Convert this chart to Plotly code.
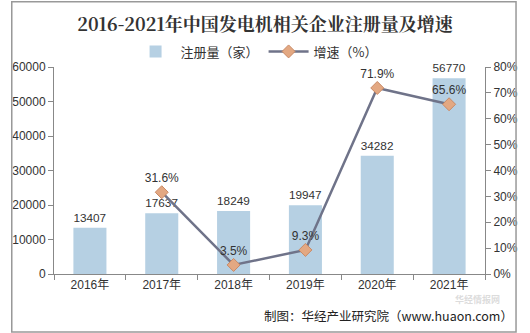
import plotly.graph_objects as go

years = ["2016年", "2017年", "2018年", "2019年", "2020年", "2021年"]
registrations = [13407, 17637, 18249, 19947, 34282, 56770]
growth_years = ["2017年", "2018年", "2019年", "2020年", "2021年"]
growth = [31.6, 3.5, 9.3, 71.9, 65.6]

FONT = "Liberation Sans, Arial, Noto Sans CJK SC, sans-serif"

fig = go.Figure()
fig.add_trace(go.Bar(
    x=years, y=registrations, name="注册量（家）",
    marker=dict(color="#b6d0e3", line=dict(width=0)),
    width=0.46,
    text=[str(v) for v in registrations], textposition="outside",
    textfont=dict(size=12, color="#333333", family=FONT),
    cliponaxis=False,
))
fig.add_trace(go.Scatter(
    x=growth_years, y=growth, name="增速（%）", yaxis="y2",
    mode="lines+markers+text",
    line=dict(color="#6f7389", width=2.5),
    marker=dict(symbol="diamond", size=10, color="#e3a882", line=dict(color="#c98a66", width=1)),
    text=[f"{v}%" for v in growth], textposition="top center",
    textfont=dict(size=12, color="#333333", family=FONT),
    cliponaxis=False,
))

fig.update_layout(
    width=530, height=333,
    margin=dict(l=53, r=41, t=67, b=59),
    paper_bgcolor="white", plot_bgcolor="white",
    title=dict(text="<b>2016-2021年中国发电机相关企业注册量及增速</b>",
               x=0.5, xanchor="center", y=0.925, yanchor="middle",
               font=dict(size=18, color="#333333", family="Noto Serif CJK SC, Noto Sans CJK SC, serif")),
    legend=dict(orientation="h", x=0.47, xanchor="center", y=1.075, yanchor="middle",
                font=dict(size=13, color="#333333", family="Noto Sans CJK SC, sans-serif"),
                bgcolor="rgba(0,0,0,0)", itemwidth=40, tracegroupgap=0),
    showlegend=True,
    xaxis=dict(type="category", showline=True, linecolor="#888888", linewidth=1,
               ticks="outside", tickson="boundaries", ticklen=5, tickcolor="#888888",
               tickfont=dict(size=12, color="#333333", family=FONT), showgrid=False),
    yaxis=dict(range=[0, 60000], dtick=10000, tickformat="d", showline=True, linecolor="#888888", linewidth=1,
               ticks="outside", ticklen=5, tickcolor="#888888", showgrid=False, zeroline=False,
               tickfont=dict(size=12, color="#333333", family=FONT)),
    yaxis2=dict(range=[0, 80], dtick=10, overlaying="y", side="right", ticksuffix="%",
                showline=True, linecolor="#888888", linewidth=1,
                ticks="outside", ticklen=5, tickcolor="#888888", showgrid=False, zeroline=False,
                tickfont=dict(size=12, color="#333333", family=FONT)),
    shapes=[dict(type="rect", xref="paper", yref="paper", x0=-0.098, x1=1.072, y0=-0.28, y1=1.315,
                 line=dict(color="#999999", width=1.5))],
    annotations=[
        dict(text="制图：华经产业研究院（www.huaon.com）", xref="paper", yref="paper",
             x=1.07, xanchor="right", y=-0.2, yanchor="middle", showarrow=False,
             font=dict(size=12.5, color="#222222", family="Noto Sans CJK SC, sans-serif")),
        dict(text="<b>华经情报网</b>", xref="paper", yref="paper",
             x=1.04, xanchor="right", y=-0.122, yanchor="middle", showarrow=False,
             font=dict(size=9, color="rgba(190,190,190,0.55)", family="Noto Sans CJK SC, sans-serif")),
    ],
)

fig.write_html("out.html")
